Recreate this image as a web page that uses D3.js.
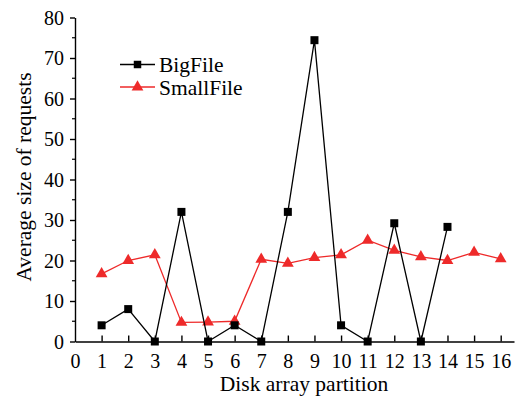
<!DOCTYPE html>
<html>
<head>
<meta charset="utf-8">
<script src="https://cdn.jsdelivr.net/npm/d3@7"></script>
<style>
  body { margin: 0; background: #fff; }
  text { font-family: "Liberation Serif", "Times New Roman", serif; fill: #000; }
</style>
</head>
<body>
<script>
// data
var partitions = [1, 2, 3, 4, 5, 6, 7, 8, 9, 10, 11, 12, 13, 14, 15, 16];
var bigFile = [4, 8, 0, 32, 0, 4, 0, 32, 74.4, 4, 0, 29.2, 0, 28.3];
var smallFile = [16.7, 20, 21.4, 4.7, 4.8, 5, 20.3, 19.3, 20.7, 21.4, 25, 22.5, 20.9, 20, 22, 20.4];
var xTicks = [0, 1, 2, 3, 4, 5, 6, 7, 8, 9, 10, 11, 12, 13, 14, 15, 16];
var yTicks = [0, 10, 20, 30, 40, 50, 60, 70, 80];
var yMinor = [5, 15, 25, 35, 45, 55, 65, 75];

var W = 518, H = 396;
var red = "#ee2a2a";

var svg = d3.select("body").append("svg")
  .attr("width", W)
  .attr("height", H);

var x = d3.scaleLinear().domain([0, 16.5]).range([75, 514]);
var y = d3.scaleLinear().domain([0, 80]).range([341.5, 17.5]);

// y axis: major ticks outward, minor shorter
var yAxis = d3.axisLeft(y).tickValues(yTicks).tickSize(5).tickPadding(6).tickSizeOuter(0);
var gy = svg.append("g")
  .attr("transform", "translate(75,0)")
  .call(yAxis);
gy.selectAll(".tick text").style("font-size", "20px").attr("dy", "0.34em");
gy.selectAll("line, path").attr("stroke", "#000").attr("stroke-width", 1.4);
gy.selectAll(".minor")
  .data(yMinor).enter().append("line")
  .attr("x1", -3).attr("x2", 0)
  .attr("y1", d => y(d)).attr("y2", d => y(d))
  .attr("stroke", "#000").attr("stroke-width", 1.2);

// x axis: ticks point up into the plot
var xAxis = d3.axisBottom(x).tickValues(xTicks).tickSize(-6).tickPadding(0).tickSizeOuter(0);
var gx = svg.append("g")
  .attr("transform", "translate(0," + y(0) + ")")
  .call(xAxis);
gx.selectAll(".tick text").style("font-size", "20px").attr("y", 12).attr("dy", "0.71em");
gx.selectAll("line, path").attr("stroke", "#000").attr("stroke-width", 1.4);
gx.select(".tick line").remove();

// axis titles
svg.append("text")
  .attr("x", 304).attr("y", 391)
  .attr("text-anchor", "middle")
  .style("font-size", "21.5px")
  .text("Disk array partition");

svg.append("text")
  .attr("transform", "translate(31,177) rotate(-90)")
  .attr("text-anchor", "middle")
  .style("font-size", "21.5px")
  .text("Average size of requests");

var line = d3.line()
  .x((d, i) => x(partitions[i]))
  .y(d => y(d));

// SmallFile
svg.append("path")
  .datum(smallFile)
  .attr("fill", "none")
  .attr("stroke", red)
  .attr("stroke-width", 1.3)
  .attr("d", line);

var tri = d3.symbol().type(d3.symbolTriangle).size(60);
svg.selectAll(".tri")
  .data(smallFile).enter().append("path")
  .attr("transform", (d, i) => "translate(" + x(partitions[i]) + "," + y(d) + ")")
  .attr("d", tri)
  .attr("fill", red);

// BigFile
svg.append("path")
  .datum(bigFile)
  .attr("fill", "none")
  .attr("stroke", "#000")
  .attr("stroke-width", 1.3)
  .attr("d", line);

svg.selectAll(".sq")
  .data(bigFile).enter().append("rect")
  .attr("x", (d, i) => x(partitions[i]) - 4)
  .attr("y", d => y(d) - 4)
  .attr("width", 8).attr("height", 8)
  .attr("fill", "#000");

// legend
var legend = [
  { name: "BigFile", color: "#000", shape: "square" },
  { name: "SmallFile", color: red, shape: "triangle" }
];
var lg = svg.selectAll(".legend")
  .data(legend).enter().append("g")
  .attr("transform", (d, i) => "translate(120," + (64.5 + i * 22.5) + ")");
lg.append("line")
  .attr("x1", 0).attr("x2", 35)
  .attr("stroke", d => d.color).attr("stroke-width", 1.4);
lg.append("path")
  .attr("transform", "translate(17.5,0)")
  .attr("d", d => d.shape === "square"
    ? d3.symbol().type(d3.symbolSquare).size(56)()
    : tri())
  .attr("fill", d => d.color);
lg.append("text")
  .attr("x", 39).attr("dy", "0.35em")
  .style("font-size", "21.5px")
  .text(d => d.name);
</script>
</body>
</html>
